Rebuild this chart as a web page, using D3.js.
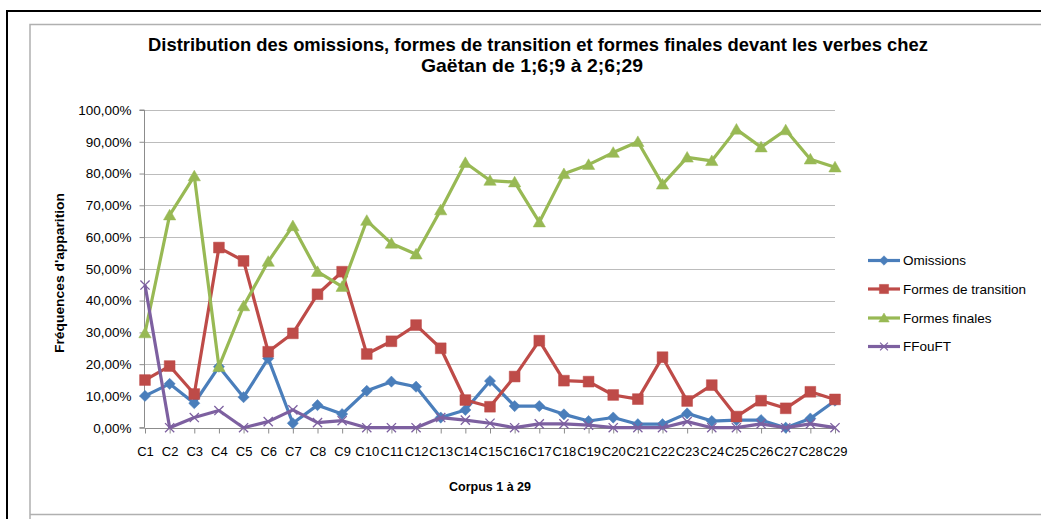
<!DOCTYPE html>
<html>
<head>
<meta charset="utf-8">
<script src="https://cdn.jsdelivr.net/npm/d3@7"></script>
<style>
  body { margin: 0; background: #fff; }
  text { font-family: "Liberation Sans", Arial, sans-serif; fill: #000; }
</style>
</head>
<body>
<div id="chart"></div>
<script>
// corpus labels C1..C29
var categories = ["C1","C2","C3","C4","C5","C6","C7","C8","C9","C10","C11","C12","C13","C14","C15",
    "C16","C17","C18","C19","C20","C21","C22","C23","C24","C25","C26","C27","C28","C29"];

// values in %
var omissions = [10.0, 13.8, 7.7, 19.2, 9.6, 21.8, 1.4, 7.1, 4.3, 11.6, 14.5, 12.9, 3.2, 5.6, 14.7,
    6.8, 6.8, 4.2, 2.1, 3.2, 1.1, 1.1, 4.5, 2.1, 2.4, 2.4, 0.0, 2.9, 8.5];
var formesTransition = [15.0, 19.4, 10.6, 56.7, 52.5, 23.9, 29.7, 42.0, 49.1, 23.2, 27.2, 32.3, 25.0, 8.7, 6.6,
    16.1, 27.4, 14.8, 14.5, 10.3, 9.0, 22.2, 8.4, 13.4, 3.5, 8.5, 6.1, 11.3, 8.9];
var formesFinales = [29.8, 66.9, 79.2, 19.2, 38.3, 52.3, 63.5, 49.1, 44.4, 65.2, 58.0, 54.6, 68.5, 83.4, 77.8,
    77.3, 64.7, 79.9, 82.8, 86.6, 90.0, 76.6, 85.1, 84.0, 93.9, 88.3, 93.7, 84.5, 82.0];
var ffouft = [44.9, 0.0, 3.2, 5.4, 0.0, 1.9, 5.6, 1.6, 2.2, 0.0, 0.0, 0.0, 3.2, 2.4, 1.4,
    0.0, 1.2, 1.2, 0.8, 0.0, 0.0, 0.0, 1.9, 0.0, 0.0, 1.2, 0.0, 1.2, 0.0];

var yTicks = [0, 10, 20, 30, 40, 50, 60, 70, 80, 90, 100];

var series = [
    {name: "Omissions", values: omissions, color: "#4A7EBB", marker: "diamond"},
    {name: "Formes de transition", values: formesTransition, color: "#BE4B48", marker: "square"},
    {name: "Formes finales", values: formesFinales, color: "#98B954", marker: "triangle"},
    {name: "FFouFT", values: ffouft, color: "#7D60A0", marker: "x"}
];

var W = 1041, H = 519;
var svg = d3.select("#chart").append("svg").attr("width", W).attr("height", H);

// frames
svg.append("path").attr("d", "M7,519V11H1041").attr("fill", "none").attr("stroke", "#000").attr("stroke-width", 2);
svg.append("path").attr("d", "M30,519V24.5H1041M30,514.5H1041").attr("fill", "none").attr("stroke", "#b0b0b0").attr("stroke-width", 1.5);

var x = d3.scalePoint().domain(categories).range([145, 835]);
var y = d3.scaleLinear().domain([0, 100]).range([427.7, 110]);

var loc = d3.formatLocale({decimal: ",", thousands: " ", grouping: [3], currency: ["", "€"]});
var pct = loc.format(".2f");

// gridlines
svg.append("g").selectAll("line").data(yTicks.slice(1)).enter().append("line")
    .attr("x1", 144.5).attr("x2", 835).attr("y1", function(d) { return Math.round(y(d)) + 0.5; })
    .attr("y2", function(d) { return Math.round(y(d)) + 0.5; })
    .attr("stroke", "#bcbcbc").attr("stroke-width", 1);

// y axis
var yAxis = d3.axisLeft(y).tickValues(yTicks).tickSize(5).tickPadding(8)
    .tickFormat(function(d) { return pct(d) + "%"; });
var gy = svg.append("g").attr("transform", "translate(144.5,0)").call(yAxis);
gy.select(".domain").attr("stroke", "#8c8c8c").attr("d", "M-5," + y(100) + "H0V" + y(0) + "H-5");
gy.selectAll(".tick line").attr("stroke", "#8c8c8c");
gy.selectAll(".tick text").style("font-size", "13.5px").style("font-family", "'Liberation Sans', Arial, sans-serif");

// x axis
var xAxis = d3.axisBottom(x).tickSize(5).tickPadding(13);
var gx = svg.append("g").attr("transform", "translate(0," + (Math.round(y(0)) + 0.5) + ")").call(xAxis);
gx.select(".domain").attr("stroke", "#8c8c8c").attr("d", "M144.5,0H835");
gx.selectAll(".tick line").attr("stroke", "#8c8c8c");
gx.selectAll(".tick text").style("font-size", "13px").style("font-family", "'Liberation Sans', Arial, sans-serif");

function markerPath(type, s) {
    if (type === "diamond") return "M0," + (-s) + "L" + s + ",0L0," + s + "L" + (-s) + ",0Z";
    if (type === "square") return "M" + (-s) + "," + (-s) + "H" + s + "V" + s + "H" + (-s) + "Z";
    if (type === "triangle") return "M0," + (-s * 1.05) + "L" + (s * 1.1) + "," + (s * 0.85) + "H" + (-s * 1.1) + "Z";
    return "M" + (-s) + "," + (-s) + "L" + s + "," + s + "M" + s + "," + (-s) + "L" + (-s) + "," + s;
}

var line = d3.line()
    .x(function(d, i) { return x(categories[i]); })
    .y(function(d) { return y(d); });

var markSize = {diamond: 5.6, square: 5.4, triangle: 5.6, x: 4.6};

series.forEach(function(s) {
    var g = svg.append("g");
    g.append("path").attr("d", line(s.values)).attr("fill", "none")
        .attr("stroke", s.color).attr("stroke-width", 3.2).attr("stroke-linejoin", "round");
    g.selectAll("path.m").data(s.values).enter().append("path").attr("class", "m")
        .attr("transform", function(d, i) { return "translate(" + x(categories[i]) + "," + y(d) + ")"; })
        .attr("d", markerPath(s.marker, markSize[s.marker]))
        .attr("fill", s.marker === "x" ? "none" : s.color)
        .attr("stroke", s.color).attr("stroke-width", s.marker === "x" ? 1.3 : 0.5);
});

// legend
var legY = [260.5, 289, 318, 346.5];
var leg = svg.append("g").selectAll("g").data(series).enter().append("g")
    .attr("transform", function(d, i) { return "translate(0," + legY[i] + ")"; });
leg.append("line").attr("x1", 868).attr("x2", 900).attr("stroke", function(d) { return d.color; }).attr("stroke-width", 3.2);
leg.append("path").attr("transform", "translate(884,0)")
    .attr("d", function(d) { return markerPath(d.marker, markSize[d.marker] * 0.85); })
    .attr("fill", function(d) { return d.marker === "x" ? "none" : d.color; })
    .attr("stroke", function(d) { return d.color; }).attr("stroke-width", function(d) { return d.marker === "x" ? 1.2 : 0.5; });
leg.append("text").attr("x", 903).attr("dy", "0.35em").style("font-size", "13.5px").text(function(d) { return d.name; });

// titles
svg.append("text").attr("x", 538).attr("y", 51).attr("text-anchor", "middle")
    .style("font-size", "19px").style("font-weight", "bold").attr("textLength", 780).attr("lengthAdjust", "spacingAndGlyphs")
    .text("Distribution des omissions, formes de transition et formes finales devant les verbes chez");
svg.append("text").attr("x", 532).attr("y", 72).attr("text-anchor", "middle")
    .style("font-size", "19px").style("font-weight", "bold").attr("textLength", 222).attr("lengthAdjust", "spacingAndGlyphs")
    .text("Gaëtan de 1;6;9 à 2;6;29");

svg.append("text").attr("transform", "translate(64,273) rotate(-90)").attr("text-anchor", "middle")
    .style("font-size", "12px").style("font-weight", "bold").attr("textLength", 160).attr("lengthAdjust", "spacingAndGlyphs")
    .text("Fréquences d'apparition");

svg.append("text").attr("x", 490).attr("y", 491).attr("text-anchor", "middle")
    .style("font-size", "12.5px").style("font-weight", "bold")
    .text("Corpus 1 à 29");
</script>
</body>
</html>
